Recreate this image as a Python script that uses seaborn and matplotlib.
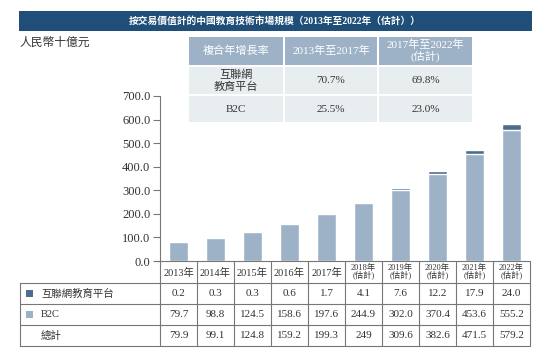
import matplotlib
matplotlib.use("Agg")
import matplotlib.pyplot as plt
import seaborn as sns
import pandas as pd
from matplotlib.patches import Rectangle

# data
years = ['2013年', '2014年', '2015年', '2016年', '2017年',
         '2018年\n(估計)', '2019年\n(估計)', '2020年\n(估計)', '2021年\n(估計)', '2022年\n(估計)']
platform = [0.2, 0.3, 0.3, 0.6, 1.7, 4.1, 7.6, 12.2, 17.9, 24.0]
b2c = [79.7, 98.8, 124.5, 158.6, 197.6, 244.9, 302.0, 370.4, 453.6, 555.2]
total = [79.9, 99.1, 124.8, 159.2, 199.3, 249, 309.6, 382.6, 471.5, 579.2]
total_labels = ['79.9', '99.1', '124.8', '159.2', '199.3', '249', '309.6', '382.6', '471.5', '579.2']
yticks = [0, 100, 200, 300, 400, 500, 600, 700]

cagr_header = ['複合年增長率', '2013年至2017年', '2017年至2022年\n(估計)']
cagr_rows = [['互聯網\n教育平台', '70.7%', '69.8%'],
             ['B2C', '25.5%', '23.0%']]

title = '按交易價值計的中國教育技術市場規模（2013年至2022年（估計））'
unit = '人民幣十億元'

dark = '#4d6d8e'
light = '#9db2c6'
navy = '#1f4e79'
grey_line = '#777777'
txt = '#333333'

sns.set_theme(style='white')
plt.rcParams['font.family'] = ['Liberation Serif', 'Noto Sans CJK TC', 'DejaVu Sans']

W, H = 557, 364
fig = plt.figure(figsize=(W / 100, H / 100), dpi=100)

# main bar axes (pixel layout)
x0, x1, y0, y1 = 160, 530, 261, 96
ax = fig.add_axes([x0 / W, (H - y0) / H, (x1 - x0) / W, (y0 - y1) / H])

df = pd.DataFrame({'year': years, 'b2c': b2c, 'total': total})
sns.barplot(data=df, x='year', y='total', color=dark, saturation=1, width=0.5, ax=ax)
sns.barplot(data=df, x='year', y='b2c', color=light, saturation=1, width=0.5, ax=ax)

ax.set_xlim(-0.5, len(years) - 0.5)
ax.set_ylim(0, 700)
ax.set_yticks(yticks)
ax.set_yticklabels([f'{v:.1f}' for v in yticks], fontsize=9, color=txt)
ax.set_xticks([])
ax.set_xlabel('')
ax.set_ylabel('')
ax.tick_params(axis='y', left=True, length=5, width=0.8, color=grey_line, pad=2)
for s in ['top', 'right', 'bottom']:
    ax.spines[s].set_visible(False)
ax.spines['left'].set_color(grey_line)
ax.spines['left'].set_linewidth(0.8)

# overlay in pixel coordinates for title, tables
ov = fig.add_axes([0, 0, 1, 1], facecolor='none')
ov.set_xlim(0, W)
ov.set_ylim(H, 0)
ov.axis('off')

# title bar
ov.add_patch(Rectangle((19, 11), 513, 20, facecolor=navy, edgecolor='none'))
ov.text(275, 21, title, color='white', fontsize=7, fontweight='bold', ha='center', va='center')
ov.text(19, 43, unit, color=txt, fontsize=8.5, ha='left', va='center')

# CAGR table
col_b = [(189, 283), (285, 377), (379, 472)]
row_b = [(37, 65), (67, 94), (96, 122)]
for r, (ra, rb) in enumerate(row_b):
    for c, (ca, cb) in enumerate(col_b):
        fc = light if r == 0 else '#e8edf0'
        ov.add_patch(Rectangle((ca, ra), cb - ca, rb - ra, facecolor=fc, edgecolor='none'))
        label = cagr_header[c] if r == 0 else cagr_rows[r - 1][c]
        ov.text((ca + cb) / 2, (ra + rb) / 2, label, ha='center', va='center',
                fontsize=8, color='white' if r == 0 else txt, linespacing=1.1)

# bottom data table
col_w = (x1 - x0) / len(years)
xs = [x0 + col_w * i for i in range(len(years) + 1)]
ov.plot([155, x1], [y0, y0], color=grey_line, lw=0.8)
row_y = [y0, 283, 304, 325, 346]
for y in row_y[1:]:
    ov.plot([20, x1], [y, y], color=grey_line, lw=0.8)
for x in xs:
    ov.plot([x, x], [y0, row_y[-1]], color=grey_line, lw=0.8)
ov.plot([20, 20], [row_y[1], row_y[-1]], color=grey_line, lw=0.8)

for i, yr in enumerate(years):
    cx = xs[i] + col_w / 2
    if '\n' in yr:
        ov.text(cx, (row_y[0] + row_y[1]) / 2, yr, ha='center', va='center',
                fontsize=6, color=txt, linespacing=1.0)
    else:
        ov.text(cx, (row_y[0] + row_y[1]) / 2 + 1, yr, ha='center', va='center',
                fontsize=7.5, color=txt)

rows = [[f'{v:.1f}' for v in platform], [f'{v:.1f}' for v in b2c], total_labels]
for r, vals in enumerate(rows):
    cy = (row_y[r + 1] + row_y[r + 2]) / 2
    for i, v in enumerate(vals):
        ov.text(xs[i] + col_w / 2, cy, v, ha='center', va='center', fontsize=8, color=txt)

names = ['互聯網教育平台', 'B2C', '總計']
swatch = [dark, light, None]
for r, name in enumerate(names):
    cy = (row_y[r + 1] + row_y[r + 2]) / 2
    if swatch[r]:
        ov.add_patch(Rectangle((26, cy - 3.5), 7, 7, facecolor=swatch[r], edgecolor='none'))
    ov.text(41, cy, name, ha='left', va='center', fontsize=7.5, color=txt)

fig.savefig('out.png', dpi=100)
